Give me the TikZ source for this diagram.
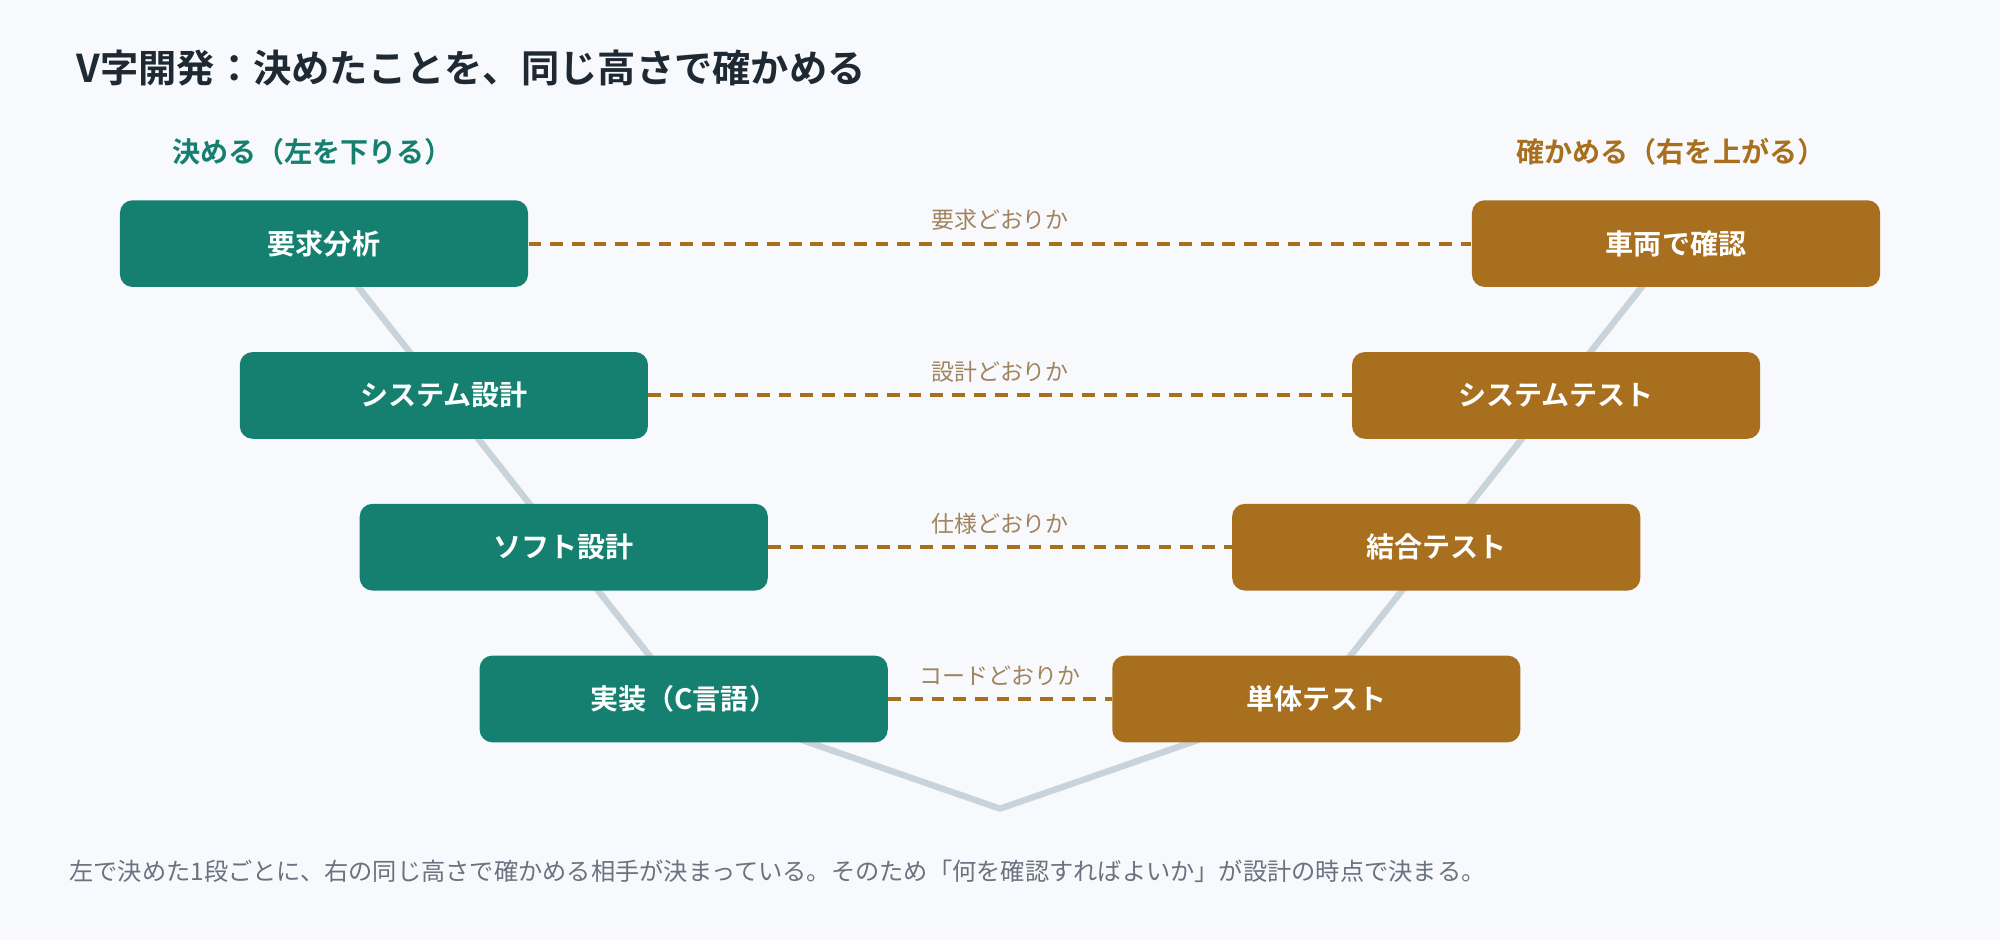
\documentclass[tikz,border=0pt]{standalone}
\usepackage{fontspec}
\setmainfont{Noto Sans CJK JP}[BoldFont={Noto Sans CJK JP Bold}]
\begin{document}
\definecolor{bg}{HTML}{F7F9FC}
\definecolor{grn}{HTML}{168070}
\definecolor{brn}{HTML}{A86F1E}
\definecolor{vline}{HTML}{C9D3DC}
\definecolor{ttl}{HTML}{1F2933}
\definecolor{lbl}{HTML}{A0845F}
\definecolor{foot}{HTML}{6B7280}
\begin{tikzpicture}[x=0.5pt,y=-0.5pt,
  box/.style={rounded corners=5pt,minimum width=160pt,minimum height=34pt,inner sep=0pt,
    text=white,font=\fontsize{11}{13}\selectfont\bfseries},
  lbox/.style={box,fill=grn},
  rbox/.style={box,fill=brn},
  link/.style={brn,line width=1.5pt,dash pattern=on 5pt off 3.5pt},
  lab/.style={lbl,font=\fontsize{9}{11}\selectfont,anchor=south,inner sep=0pt}]
\fill[bg] (0,0) rectangle (1568,737);
\useasboundingbox (0,0) rectangle (1568,737);
\node[anchor=west,text=ttl,font=\fontsize{15}{18}\selectfont\bfseries] (title) at (53,53) {V字開発：決めたことを、同じ高さで確かめる};
\node[text=grn,font=\fontsize{11}{13}\selectfont\bfseries] (lh) at (245,119) {決める（左を下りる）};
\node[text=brn,font=\fontsize{11}{13}\selectfont\bfseries] (rh) at (1310,119) {確かめる（右を上がる）};
\coordinate (apex) at (784,634);
\coordinate (l1) at (254,191); \coordinate (l2) at (348,310);
\coordinate (l3) at (442,429); \coordinate (l4) at (536,548);
\coordinate (r1) at (1314,191); \coordinate (r2) at (1220,310);
\coordinate (r3) at (1126,429); \coordinate (r4) at (1032,548);
\draw[vline,line width=2.5pt,line join=round] (l1)--(l2)--(l3)--(l4)--(apex)--(r4)--(r3)--(r2)--(r1);
\node[lbox] (a1) at (l1) {要求分析};
\node[lbox] (a2) at (l2) {システム設計};
\node[lbox] (a3) at (l3) {ソフト設計};
\node[lbox] (a4) at (l4) {実装（C言語）};
\node[rbox] (b1) at (r1) {車両で確認};
\node[rbox] (b2) at (r2) {システムテスト};
\node[rbox] (b3) at (r3) {結合テスト};
\node[rbox] (b4) at (r4) {単体テスト};
\draw[link] (a1.east)--(b1.west);
\draw[link] (a2.east)--(b2.west);
\draw[link] (a3.east)--(b3.west);
\draw[link] (a4.east)--(b4.west);
\node[lab] (t1) at (784,181) {要求どおりか};
\node[lab] (t2) at (784,300) {設計どおりか};
\node[lab] (t3) at (784,419) {仕様どおりか};
\node[lab] (t4) at (784,538) {コードどおりか};
\node[anchor=west,text=foot,font=\fontsize{9.5}{11}\selectfont,inner sep=0pt] (ft) at (54,683) {左で決めた1段ごとに、右の同じ高さで確かめる相手が決まっている。そのため「何を確認すればよいか」が設計の時点で決まる。};
\end{tikzpicture}
\end{document}
